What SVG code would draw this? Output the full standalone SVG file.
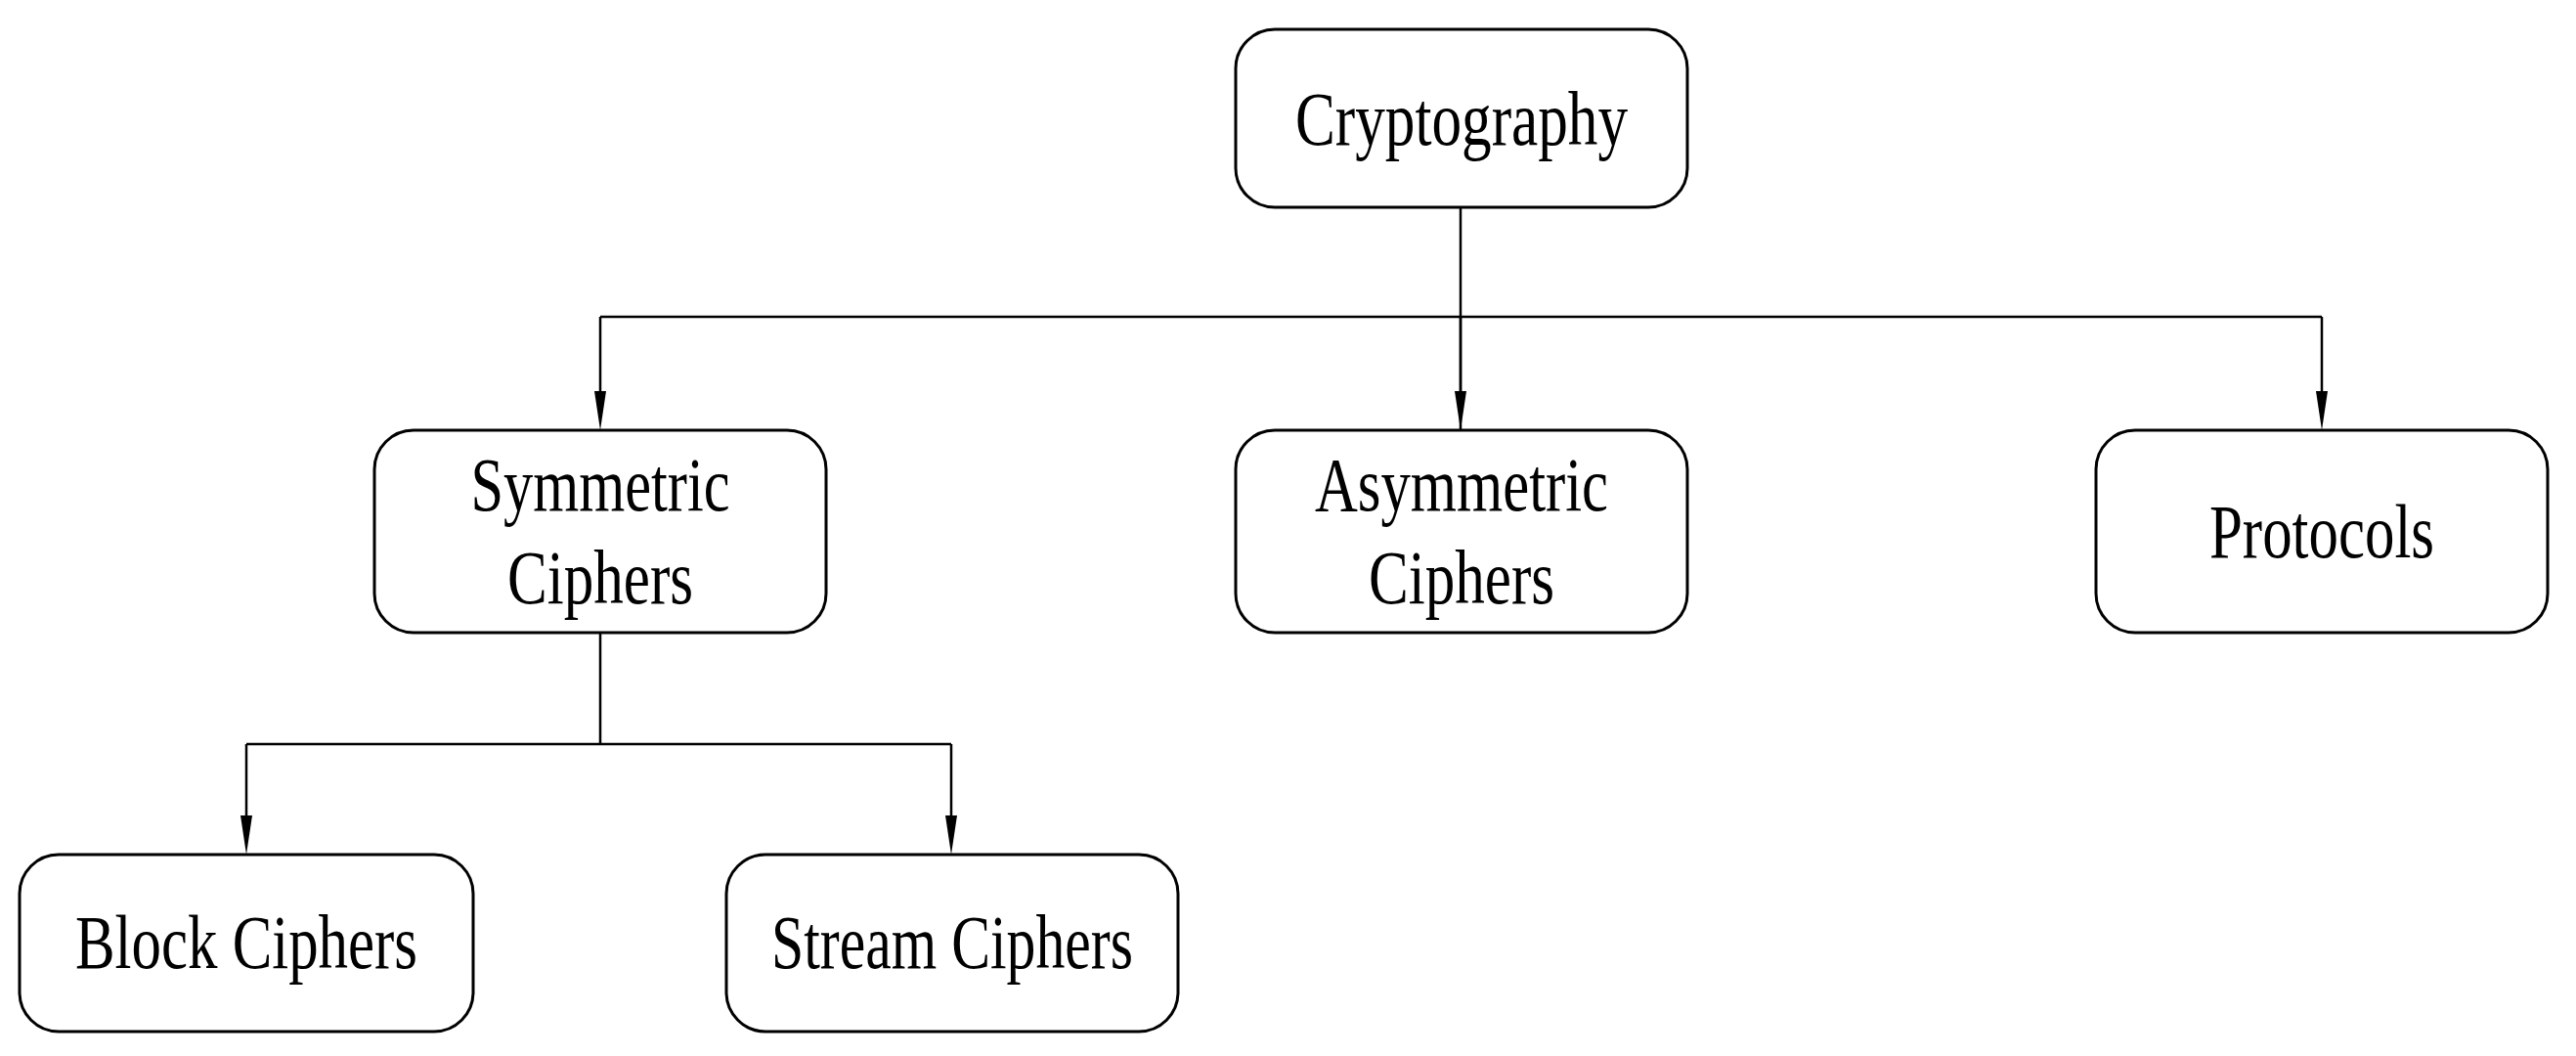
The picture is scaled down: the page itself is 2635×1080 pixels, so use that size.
<svg xmlns="http://www.w3.org/2000/svg" width="2635" height="1080" viewBox="0 0 2635 1080">
<style>
.box{fill:#fff;stroke:#000;stroke-width:3}
.t{font-family:"Liberation Serif",serif;font-size:78px;fill:#000;text-anchor:middle}
.c{fill:none;stroke:#000;stroke-width:2.5}
</style>
<defs><marker id="a" markerWidth="12" markerHeight="30" refX="6" refY="30" orient="auto-start-reverse" markerUnits="userSpaceOnUse" viewBox="0 0 12 30"><path d="M0,0 L12,0 L6,30 Z" transform="rotate(0)" fill="#000"/></marker></defs>
<rect width="2635" height="1080" fill="#fff"/>
<g id="connectors">
<path class="c" d="M1494,212 V440"/>
<path class="c" d="M614,324 H2375"/>
<path class="c" d="M614,324 V400"/><path d="M608,400 L620,400 L614,440 Z"/>
<path class="c" d="M1494,324 V400"/><path d="M1488,400 L1500,400 L1494,440 Z"/>
<path class="c" d="M2375,324 V400"/><path d="M2369,400 L2381,400 L2375,440 Z"/>
<path class="c" d="M614,647 V761 M252,761 H973 M252,761 V834 M973,761 V834"/>
<path d="M246,834 L258,834 L252,874 Z"/><path d="M967,834 L979,834 L973,874 Z"/>
</g>
<g id="n-crypto"><rect class="box" x="1264" y="30" width="462" height="182" rx="40"/><text class="t" x="1495" y="148" textLength="340" lengthAdjust="spacingAndGlyphs">Cryptography</text></g>
<g id="n-sym"><rect class="box" x="383" y="440" width="462" height="207" rx="40"/><text class="t" x="614" y="522" textLength="265" lengthAdjust="spacingAndGlyphs">Symmetric</text><text class="t" x="614" y="617" textLength="190" lengthAdjust="spacingAndGlyphs">Ciphers</text></g>
<g id="n-asym"><rect class="box" x="1264" y="440" width="462" height="207" rx="40"/><text class="t" x="1495" y="522" textLength="300" lengthAdjust="spacingAndGlyphs">Asymmetric</text><text class="t" x="1495" y="617" textLength="190" lengthAdjust="spacingAndGlyphs">Ciphers</text></g>
<g id="n-proto"><rect class="box" x="2144" y="440" width="462" height="207" rx="40"/><text class="t" x="2375" y="570" textLength="230" lengthAdjust="spacingAndGlyphs">Protocols</text></g>
<g id="n-block"><rect class="box" x="20" y="874" width="464" height="181" rx="40"/><text class="t" x="252" y="990" textLength="350" lengthAdjust="spacingAndGlyphs">Block Ciphers</text></g>
<g id="n-stream"><rect class="box" x="743" y="874" width="462" height="181" rx="40"/><text class="t" x="974" y="990" textLength="370" lengthAdjust="spacingAndGlyphs">Stream Ciphers</text></g>
</svg>
